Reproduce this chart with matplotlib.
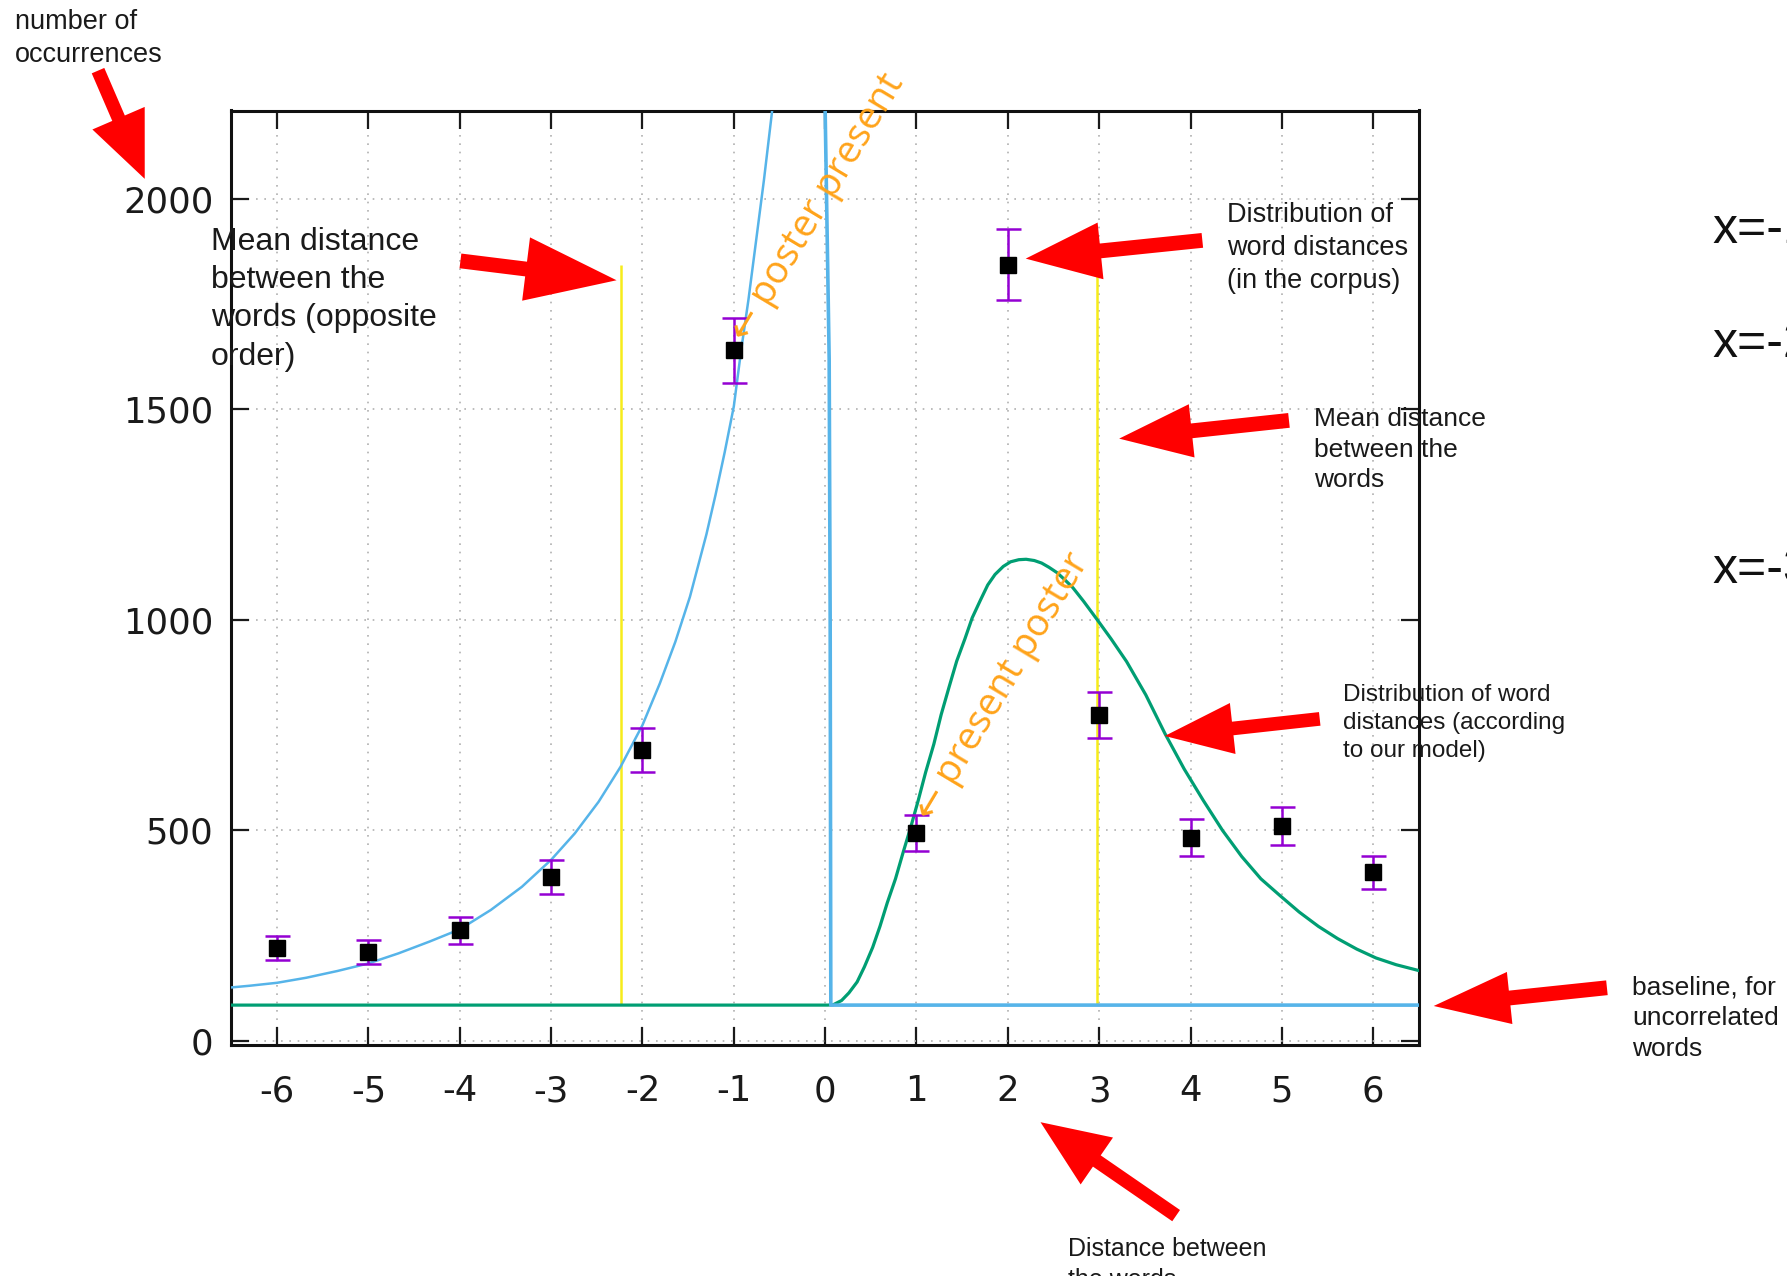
import matplotlib.pyplot as plt
from matplotlib.patches import FancyArrow

# measured word distances (x) and counts with error bars
dist = [-6, -5, -4, -3, -2, -1, 1, 2, 3, 4, 5, 6]
counts = [221, 211, 263, 390, 691, 1640, 494, 1844, 774, 483, 510, 400]
errs = [29, 29, 32, 40, 52, 78, 42, 84, 55, 43, 45, 39]

baseline = 85

# model curve for the opposite order (x < 0), then its spike at x = 0
blue_x = [-6.5, -6.3, -6.0, -5.68, -5.34, -5.0, -4.67, -4.33, -4.0, -3.66,
          -3.32, -3.0, -2.74, -2.48, -2.24, -2.0, -1.81, -1.64, -1.48, -1.3,
          -1.2, -1.1, -1.0, -0.92, -0.84, -0.76, -0.67, -0.58]
blue_y = [127, 131, 138, 150, 166, 184, 208, 236, 265, 311,
          366, 430, 493, 568, 651, 750, 849, 948, 1055, 1203,
          1297, 1398, 1507, 1640, 1760, 1894, 2045, 2210]
spike_x = [0.0, 0.044, 0.055, 0.062, 6.5]
spike_y = [2210, 1620, 1000, 85, 85]

# model curve for the given order (x > 0)
green_x = [-6.5, 0.03, 0.09, 0.18, 0.26, 0.35, 0.43, 0.52, 0.60, 0.68, 0.77,
           0.85, 0.94, 1.02, 1.10, 1.19, 1.27, 1.36, 1.44, 1.53, 1.61, 1.70,
           1.78, 1.86, 1.95, 2.03, 2.12, 2.20, 2.29, 2.37, 2.45, 2.54, 2.62,
           2.71, 2.83, 2.99, 3.13, 3.30, 3.51, 3.72, 3.93, 4.14, 4.35, 4.56,
           4.77, 4.98, 5.19, 5.40, 5.61, 5.82, 6.03, 6.25, 6.5]
green_y = [85, 85, 86, 96, 114, 140, 176, 222, 272, 328, 385,
           445, 510, 572, 638, 705, 775, 843, 902, 955, 1005, 1047,
           1083, 1108, 1127, 1138, 1143, 1144, 1141, 1135, 1125, 1112, 1096,
           1077, 1044, 997, 955, 901, 822, 730, 646, 571, 500, 438,
           385, 345, 306, 272, 243, 218, 197, 181, 167]

# mean distances for both orders
mean_x = [-2.24, 2.98]
mean_top = 1843

xticks = list(range(-6, 7))
yticks = [0, 500, 1000, 1500, 2000]

W, H = 1787, 1276
fig = plt.figure(figsize=(W / 100, H / 100), dpi=100)
ax = fig.add_axes([231.4 / W, 1 - 1045.1 / H, (1418.9 - 231.4) / W, (1045.1 - 110.5) / H])

ax.plot(green_x, green_y, color='#009e73', lw=2.3, zorder=3)
ax.plot(blue_x, blue_y, color='#56b4e9', lw=1.8, zorder=3)
ax.plot(spike_x, spike_y, color='#56b4e9', lw=2.6, zorder=3)
ax.vlines(mean_x, baseline, mean_top, color='#f7ec1a', lw=1.8, zorder=2)
ax.errorbar(dist, counts, yerr=errs, fmt='s', color='black', ms=11.5,
            ecolor='#9400d3', elinewidth=1.8, capsize=9, capthick=1.8, zorder=5)

ax.text(-0.95, 1668, '\u2190 poster present', rotation=59, rotation_mode='anchor',
        ha='left', va='center', fontsize=27.5, color='#ffa31a',
        family=['Open Sans', 'DejaVu Sans'], zorder=6)
ax.text(1.08, 532, '\u2190 present poster', rotation=59, rotation_mode='anchor',
        ha='left', va='center', fontsize=27.5, color='#ffa31a',
        family=['Open Sans', 'DejaVu Sans'], zorder=6)

ax.set_xlim(-6.5, 6.5)
ax.set_ylim(-10, 2210)
ax.set_xticks(xticks)
ax.set_xticklabels([str(t) for t in xticks])
ax.set_yticks(yticks)
ax.set_yticklabels([str(t) for t in yticks])
ax.grid(True, linestyle=(0, (1, 4)), color='#b0b0b0', lw=1.2)
ax.tick_params(direction='in', length=13, width=1.6, top=True, right=True,
               labelsize=25.5, colors='#1a1a1a')
ax.tick_params(axis='x', pad=21)
ax.tick_params(axis='y', pad=13)
for s in ax.spines.values():
    s.set_linewidth(2.2)
    s.set_color('#111111')

# overlay in picture pixels for the callouts
ov = fig.add_axes([0, 0, 1, 1], zorder=10)
ov.set_xlim(0, 1568)
ov.set_ylim(1120, 0)
ov.axis('off')
ov.patch.set_visible(False)

arrows = [
    ((86, 62), (127, 157), 12, 50, 58),
    ((404, 229), (541, 246), 13, 56, 80),
    ((1055, 211), (900, 227), 13, 50, 66),
    ((1131, 369), (982, 385), 13, 47, 64),
    ((1158, 631), (1022, 646), 12, 45, 60),
    ((1410, 867), (1258, 883), 13, 46, 67),
    ((1032, 1067), (913, 985), 12, 50, 60),
]
for (x0, y0), (x1, y1), w, hw, hl in arrows:
    ov.add_patch(FancyArrow(x0, y0, x1 - x0, y1 - y0, width=w, head_width=hw,
                            head_length=hl, length_includes_head=True,
                            color='#ff0000', lw=0))

notes = [
    (13, 8, 'number of\noccurrences', 19.5),
    (185, 199, 'Mean distance\nbetween the\nwords (opposite\norder)', 23),
    (1077, 177, 'Distribution of\nword distances\n(in the corpus)', 19.5),
    (1153, 357, 'Mean distance\nbetween the\nwords', 19),
    (1178, 600, 'Distribution of word\ndistances (according\nto our model)', 17.5),
    (1432, 856, 'baseline, for\nuncorrelated\nwords', 19),
    (937, 1086, 'Distance between\nthe words', 18),
]
for x, y, s, fs in notes:
    fig.text(x / 1568, 1 - y / 1120, s, fontsize=fs, family='Liberation Sans',
             va='top', ha='left', color='#1a1a1a', linespacing=1.36)

for y, s in [(213, 'x=-1'), (313, 'x=-2'), (512, 'x=-3')]:
    fig.text(1503 / 1568, 1 - y / 1120, s, fontsize=36, family='Liberation Sans',
             va='baseline', ha='left', color='#111111')

fig.savefig('out.png', dpi=100)
